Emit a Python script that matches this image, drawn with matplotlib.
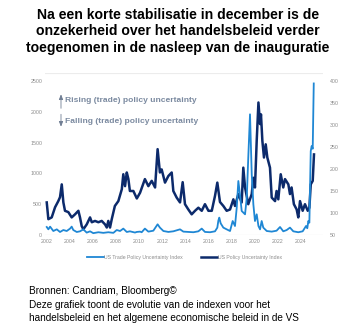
import matplotlib.pyplot as plt

# US Policy Uncertainty Index (right axis)
epu_years = [2002.0, 2002.14, 2002.43, 2002.72, 2003.0, 2003.15, 2003.3, 2003.44, 2003.58, 2003.87,
             2004.16, 2004.45, 2004.74, 2004.88, 2005.03, 2005.17, 2005.46, 2005.75, 2005.9, 2006.18,
             2006.47, 2006.76, 2007.05, 2007.2, 2007.33, 2007.48, 2007.63, 2007.9, 2008.2, 2008.5,
             2008.63, 2008.78, 2008.93, 2009.07, 2009.2, 2009.5, 2009.8, 2010.08, 2010.5, 2010.8,
             2011.09, 2011.38, 2011.6, 2011.8, 2011.95, 2012.24, 2012.53, 2012.82, 2012.96, 2013.25,
             2013.54, 2013.77, 2013.97, 2014.26, 2014.55, 2014.84, 2015.13, 2015.42, 2015.7, 2016.0,
             2016.29, 2016.57, 2016.77, 2017.0, 2017.29, 2017.58, 2017.87, 2018.16, 2018.3, 2018.59,
             2018.88, 2019.02, 2019.17, 2019.45, 2019.75, 2019.89, 2020.03, 2020.18, 2020.33, 2020.47,
             2020.55, 2020.67, 2020.81, 2020.96, 2021.1, 2021.33, 2021.48, 2021.77, 2021.9, 2022.05,
             2022.26, 2022.48, 2022.63, 2022.92, 2023.06, 2023.2, 2023.4, 2023.64, 2023.78, 2023.93,
             2024.16, 2024.36, 2024.6, 2024.74, 2024.86, 2025.03, 2025.14]
epu_values = [124, 86, 90, 113, 127, 136, 165, 124, 105, 102,
              90, 97, 105, 90, 70, 63, 74, 90, 79, 82,
              79, 82, 74, 67, 82, 67, 86, 116, 127, 154,
              188, 161, 192, 177, 150, 150, 133, 146, 177, 161,
              173, 158, 245, 192, 199, 169, 184, 192, 150, 135,
              124, 170, 120, 108, 97, 105, 112, 105, 120, 105,
              105, 139, 169, 125, 116, 105, 108, 131, 116, 143,
              124, 203, 158, 120, 143, 180, 158, 264, 351, 302,
              324, 264, 226, 256, 226, 203, 135, 127, 150, 131,
              188, 158, 177, 165, 143, 158, 120, 108, 90, 127,
              105, 120, 105, 112, 165, 173, 233]

# US Trade Policy Uncertainty Index (left axis)
tpu_years = [2002.0, 2002.14, 2002.29, 2002.57, 2002.87, 2003.15, 2003.44, 2003.73, 2004.02, 2004.16,
             2004.3, 2004.6, 2004.88, 2005.17, 2005.46, 2005.75, 2006.03, 2006.47, 2006.9, 2007.33,
             2007.77, 2008.06, 2008.35, 2008.63, 2008.93, 2009.2, 2009.64, 2009.8, 2010.08, 2010.22,
             2010.5, 2010.8, 2011.23, 2011.6, 2011.8, 2012.1, 2012.53, 2012.96, 2013.54, 2013.83,
             2014.26, 2014.7, 2015.13, 2015.42, 2015.7, 2016.14, 2016.57, 2016.77, 2016.86, 2016.94,
             2017.06, 2017.29, 2017.58, 2017.87, 2018.1, 2018.3, 2018.45, 2018.59, 2018.73, 2018.88,
             2019.17, 2019.32, 2019.45, 2019.6, 2019.75, 2019.89, 2020.03, 2020.18, 2020.33, 2020.47,
             2020.61, 2020.75, 2021.05, 2021.48, 2021.9, 2022.2, 2022.48, 2022.77, 2023.06, 2023.35,
             2023.78, 2024.16, 2024.45, 2024.56, 2024.65, 2024.74, 2024.86, 2024.94, 2025.03, 2025.12]
tpu_values = [130, 92, 136, 65, 92, 49, 81, 65, 104, 136,
              81, 49, 60, 92, 39, 60, 30, 45, 35, 45,
              35, 81, 65, 104, 49, 60, 40, 50, 55, 45,
              104, 55, 70, 174, 120, 65, 50, 60, 92, 55,
              50, 45, 60, 104, 50, 45, 60, 120, 234, 282,
              190, 120, 92, 65, 227, 146, 444, 877, 660, 390,
              336, 607, 1256, 1959, 985, 498, 227, 336, 146, 92,
              227, 120, 65, 55, 70, 130, 60, 80, 120, 60,
              45, 60, 146, 110, 227, 200, 1363, 1444, 1400, 2460]

year_ticks = list(range(2002, 2025, 2))
left_ticks = [0, 500, 1000, 1500, 2000, 2500]
right_ticks = [50, 100, 150, 200, 250, 300, 350, 400]

title_lines = ["Na een korte stabilisatie in december is de",
               "onzekerheid over het handelsbeleid verder",
               "toegenomen in de nasleep van de inauguratie"]
footer_lines = ["Bronnen: Candriam, Bloomberg©",
                "Deze grafiek toont de evolutie van de indexen voor het",
                "handelsbeleid en het algemene economische beleid in de VS"]

light = "#1f87d4"
dark = "#0c2a6b"
tick_grey = "#8c8c8c"

plt.rcParams["font.family"] = ["Liberation Sans", "DejaVu Sans"]

fig = plt.figure(figsize=(3.53, 3.28), dpi=100)
ax = fig.add_axes([0.1275, 0.2835, 0.7875, 0.494])
ax2 = ax.twinx()

ax2.plot(epu_years, epu_values, color=dark, lw=1.8, label="US Policy Uncertainty Index")
ax.plot(tpu_years, tpu_values, color=light, lw=1.3, label="US Trade Policy Uncertainty Index")
ax.set_zorder(ax2.get_zorder() + 1)
ax.patch.set_visible(False)

ax.set_xlim(2001.85, 2025.92)
ax.set_ylim(0, 2630)
ax2.set_ylim(50, 418)

for a in (ax, ax2):
    for s in a.spines.values():
        s.set_visible(False)
ax.axhline(0, color="#d9d9d9", lw=0.8)
ax.axhline(2630, color="#ececec", lw=0.8)

ax.set_xticks(year_ticks)
ax.set_yticks(left_ticks)
ax2.set_yticks(right_ticks)
ax.tick_params(axis="both", length=0, labelsize=3.8, labelcolor=tick_grey, pad=3)
ax.tick_params(axis="y", pad=2)
ax2.tick_params(axis="y", length=0, labelsize=3.8, labelcolor=tick_grey, pad=5)

# annotation arrows and text
ann_col = "#7b8aa0"
arrow_kw = dict(arrowstyle="-|>,head_length=0.3,head_width=0.12", color="#6f7d93", lw=0.6,
                shrinkA=0, shrinkB=0)
fig.add_artist(plt.matplotlib.patches.FancyArrowPatch(
    (0.1728, 0.6698), (0.1728, 0.7125), transform=fig.transFigure, mutation_scale=10, **arrow_kw))
fig.add_artist(plt.matplotlib.patches.FancyArrowPatch(
    (0.1728, 0.6515), (0.1728, 0.6137), transform=fig.transFigure, mutation_scale=10, **arrow_kw))
fig.text(0.183, 0.695, "Rising (trade) policy uncertainty", fontsize=6.1, fontweight="bold",
         color=ann_col, va="center")
fig.text(0.183, 0.631, "Falling (trade) policy uncertainty", fontsize=6.1, fontweight="bold",
         color=ann_col, va="center")

h1, l1 = ax.get_legend_handles_labels()
h2, l2 = ax2.get_legend_handles_labels()
fig.legend(h1 + h2, l1 + l2, loc="center", bbox_to_anchor=(0.523, 0.2143), ncol=2, frameon=False,
           fontsize=3.7, labelcolor=tick_grey, handlelength=3.2, handletextpad=0.1, columnspacing=3.5)

for i, line in enumerate(title_lines):
    fig.text(0.504, 0.954 - i * 0.0495, line, ha="center", va="center", fontsize=10.1,
             fontweight="bold", color="black")

for i, line in enumerate(footer_lines):
    fig.text(0.082, 0.1128 - i * 0.0412, line, ha="left", va="center", fontsize=7.2, color="black")

fig.savefig("out.png", dpi=100)
